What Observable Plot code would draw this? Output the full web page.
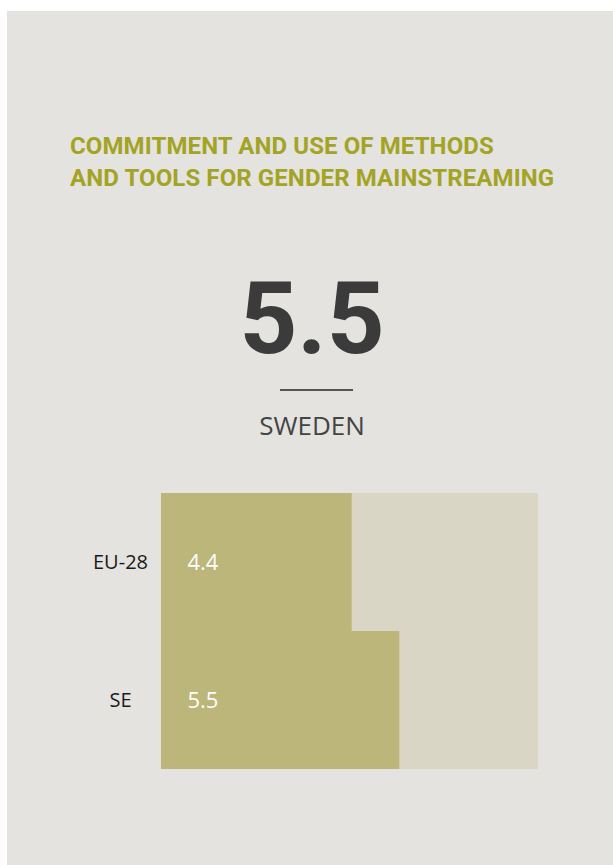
<!DOCTYPE html>
<html>
<head>
<meta charset="utf-8">
<script src="https://cdn.jsdelivr.net/npm/d3@7"></script>
<script src="https://cdn.jsdelivr.net/npm/@observablehq/plot@0.6"></script>
<style>
  html, body { margin: 0; padding: 0; background: #ffffff; }
  #panel { position: absolute; left: 7px; top: 11px; width: 606px; height: 854px; background: #e4e3df; overflow: hidden; }
  .title { position: absolute; left: 63px; top: 119px; font-family: Roboto, "Noto Sans", sans-serif; font-weight: 700; font-size: 24px; line-height: 32px; color: #a3a324; white-space: nowrap; letter-spacing: 0.1px; }
  .big { position: absolute; left: 0; width: 610px; top: 253px; text-align: center; font-family: Roboto, sans-serif; font-weight: 700; font-size: 101px; line-height: 110px; color: #3b3b3b; }
  .rule { position: absolute; left: 273px; top: 378px; width: 73px; height: 2px; background: #555555; }
  .country { position: absolute; left: 0; width: 610px; top: 396px; text-align: center; font-family: "Open Sans", sans-serif; font-size: 26px; line-height: 36px; color: #444444; }
  #chart { position: absolute; left: 0; top: 469px; }
</style>
</head>
<body>
<div id="panel">
  <div class="title">COMMITMENT AND USE OF METHODS<br>AND TOOLS FOR GENDER MAINSTREAMING</div>
  <div class="big" id="big"></div>
  <div class="rule"></div>
  <div class="country" id="country"></div>
  <div id="chart"></div>
</div>
<script>
const categories = ["EU-28", "SE"];
const scores = [4.4, 5.5];
const maxScore = 8.7;
const countryName = "SWEDEN";
const headlineValue = 5.5;

const rows = categories.map((c, i) => ({category: c, score: scores[i], max: maxScore}));

document.getElementById("big").textContent = headlineValue.toFixed(1);
document.getElementById("country").textContent = countryName;

const chart = Plot.plot({
  width: 606,
  height: 299,
  marginLeft: 154,
  marginRight: 75,
  marginTop: 13,
  marginBottom: 10,
  style: {background: "transparent", fontFamily: "'Open Sans', sans-serif"},
  x: {domain: [0, maxScore], axis: null},
  y: {domain: categories, padding: 0, axis: null},
  marks: [
    Plot.barX(rows, {x: "max", y: "category", fill: "#d9d6c6"}),
    Plot.barX(rows, {x: "score", y: "category", fill: "#bcb67a"}),
    Plot.axisY({tickSize: 0, tickPadding: 41, textAnchor: "middle", fontSize: 20, fill: "#1a1a1a", label: null}),
    Plot.text(rows, {x: 0, y: "category", text: d => d.score.toFixed(1), textAnchor: "start", dx: 26, fill: "#ffffff", fontSize: 22})
  ]
});
document.getElementById("chart").appendChild(chart);
</script>
</body>
</html>
